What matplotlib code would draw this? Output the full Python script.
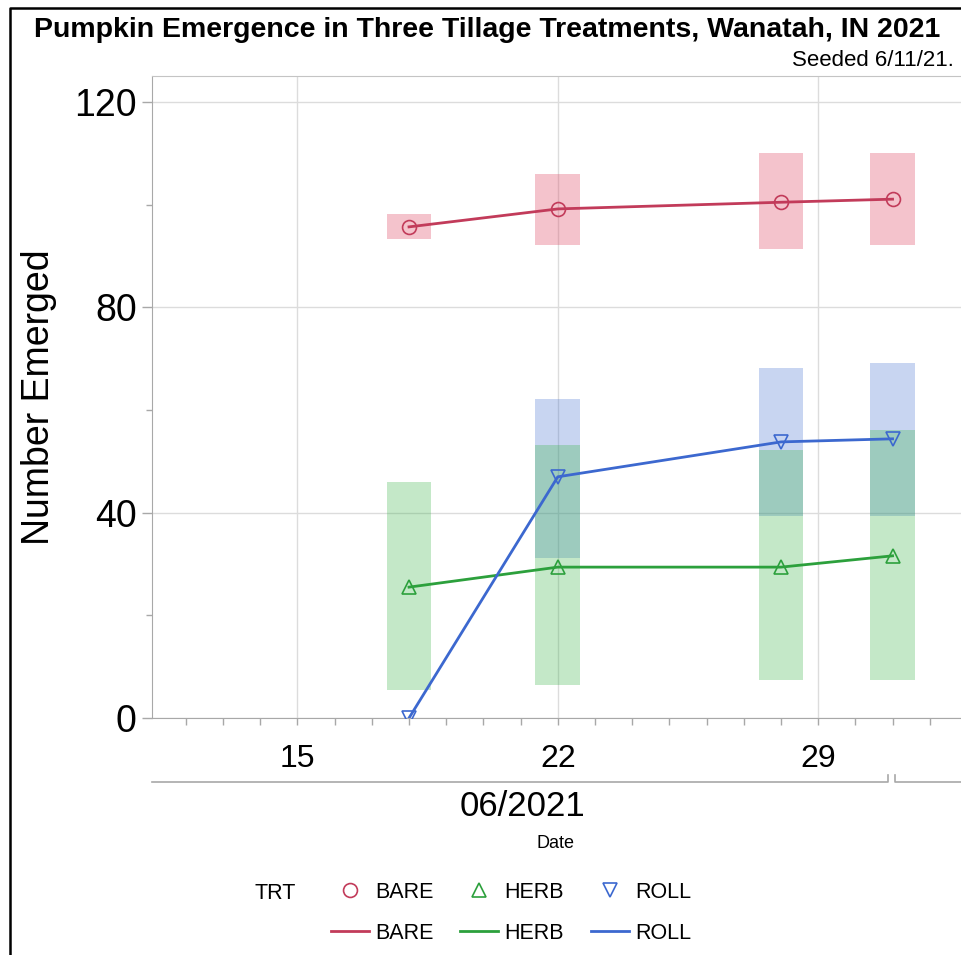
import matplotlib
matplotlib.use("Agg")
import matplotlib.pyplot as plt
from matplotlib.lines import Line2D
import numpy as np

plt.rcParams['font.family'] = ['Liberation Sans', 'DejaVu Sans']

# ---- data (day of June 2021; 31 = July 1) ----
days = [18, 22, 28, 31]
treatments = ["BARE", "HERB", "ROLL"]
bare_mean = [95.7, 99.2, 100.5, 101.1]
bare_low = [93.3, 92.1, 91.4, 92.1]
bare_high = [98.2, 106.0, 110.1, 110.1]
herb_mean = [25.5, 29.4, 29.4, 31.6]
herb_low = [5.5, 6.4, 7.4, 7.4]
herb_high = [46.0, 53.2, 52.2, 56.1]
roll_mean = [0.0, 47.0, 53.8, 54.4]
roll_low = [0.0, 31.2, 39.4, 39.4]
roll_high = [0.0, 62.1, 68.2, 69.2]
x_ticks = [15, 22, 29]
x_tick_labels = ["15", "22", "29"]
y_ticks = [0, 40, 80, 120]
month_label = "06/2021"
month_break = 31  # July 1

line_colors = {"BARE": "#c23b5a", "HERB": "#2ca03c", "ROLL": "#3c68cf"}
band_colors = {"BARE": "#e0506a", "HERB": "#3cb44b", "ROLL": "#3a6ad0"}
band_alpha = {"BARE": 0.34, "HERB": 0.30, "ROLL": 0.28}
markers = {"BARE": "o", "HERB": "^", "ROLL": "v"}
series = {
    "BARE": (bare_mean, bare_low, bare_high),
    "HERB": (herb_mean, herb_low, herb_high),
    "ROLL": (roll_mean, roll_low, roll_high),
}

fig = plt.figure(figsize=(9.61, 9.55), dpi=100)
ax = fig.add_axes([152 / 961, 1 - 718 / 955, 1 - 152 / 961, (718 - 76) / 955])

ax.set_xlim(11.09, 32.84)
ax.set_ylim(0, 125.1)

# bands
for trt in ["ROLL", "HERB", "BARE"]:
    m, lo, hi = series[trt]
    ax.bar(days, np.array(hi) - np.array(lo), bottom=lo, width=1.2,
           color=band_colors[trt], alpha=band_alpha[trt], linewidth=0, zorder=2)

# lines and markers
for trt in treatments:
    m, lo, hi = series[trt]
    ax.plot(days, m, color=line_colors[trt], lw=2.0, zorder=4)
    ax.plot(days, m, linestyle="none", marker=markers[trt], markersize=10,
            markerfacecolor="none", markeredgecolor=line_colors[trt],
            markeredgewidth=1.2, zorder=5)

# grid and axes styling
ax.set_xticks(x_ticks)
ax.set_xticklabels(x_tick_labels)
ax.set_xticks(np.arange(12, 33), minor=True)
ax.set_yticks(y_ticks)
ax.set_yticks([20, 60, 100], minor=True)
ax.grid(True, which="major", color="#dcdcdc", lw=1.0, zorder=0)
ax.set_axisbelow(True)
ax.spines["right"].set_visible(False)
ax.spines["left"].set_color("#a8a8a8")
ax.spines["bottom"].set_color("#a8a8a8")
ax.spines["top"].set_color("#c4c4c4")
ax.tick_params(axis="y", which="major", length=7, width=1, color="#a8a8a8",
               labelsize=27, pad=4)
ax.tick_params(axis="y", which="minor", length=4, width=1, color="#a8a8a8")
ax.tick_params(axis="x", which="both", length=5, width=1, color="#a8a8a8",
               labelsize=23, pad=14)
ax.set_ylabel("Number Emerged", fontsize=27, labelpad=12)

# month axis (secondary date level)
tr = ax.get_xaxis_transform()
ah = 718 - 76
ym = -(782 - 718) / ah
dy = 7 / ah
x0 = ax.get_xlim()[0]
x1 = ax.get_xlim()[1]
ax.plot([x0, month_break - 0.13, month_break - 0.13], [ym, ym, ym + dy],
        transform=tr, color="#a8a8a8", lw=1.2, clip_on=False)
ax.plot([month_break + 0.06, month_break + 0.06, x1], [ym + dy, ym, ym],
        transform=tr, color="#a8a8a8", lw=1.2, clip_on=False)
ax.text((x0 + month_break) / 2, -(806 - 718) / ah, month_label,
        transform=tr, ha="center", va="center", fontsize=25)
fig.text(556 / 961, 1 - 843 / 955, "Date", ha="center", va="center", fontsize=13)

# titles
fig.text(487 / 961, 1 - 30 / 955,
         "Pumpkin Emergence in Three Tillage Treatments, Wanatah, IN 2021",
         ha="center", va="center", fontsize=20.5, fontweight="bold")
fig.text(954 / 961, 1 - 61 / 955, "Seeded 6/11/21.", ha="right", va="center",
         fontsize=16)

# legend
handles = []
for trt in treatments:
    handles.append(Line2D([], [], linestyle="none", marker=markers[trt], markersize=10,
                          markerfacecolor="none", markeredgecolor=line_colors[trt],
                          markeredgewidth=1.2, label=trt))
    handles.append(Line2D([], [], color=line_colors[trt], lw=2.0, label=trt))
fig.legend(handles=handles, ncol=3, loc="upper left",
           bbox_to_anchor=(331 / 961, 1 - 882 / 955), frameon=False,
           fontsize=15.5, handlelength=1.75, handletextpad=0.3,
           columnspacing=1.25, labelspacing=0.92, borderpad=0, borderaxespad=0)
fig.text(275 / 961, 1 - 893 / 955, "TRT", ha="center", va="center", fontsize=15.5)

# outer frame of screenshot
fig.add_artist(Line2D([10 / 961, 10 / 961, 1.0], [0.0, 1 - 8 / 955, 1 - 8 / 955],
                      transform=fig.transFigure, color="black", lw=1.8))

fig.savefig("out.png", dpi=100)
